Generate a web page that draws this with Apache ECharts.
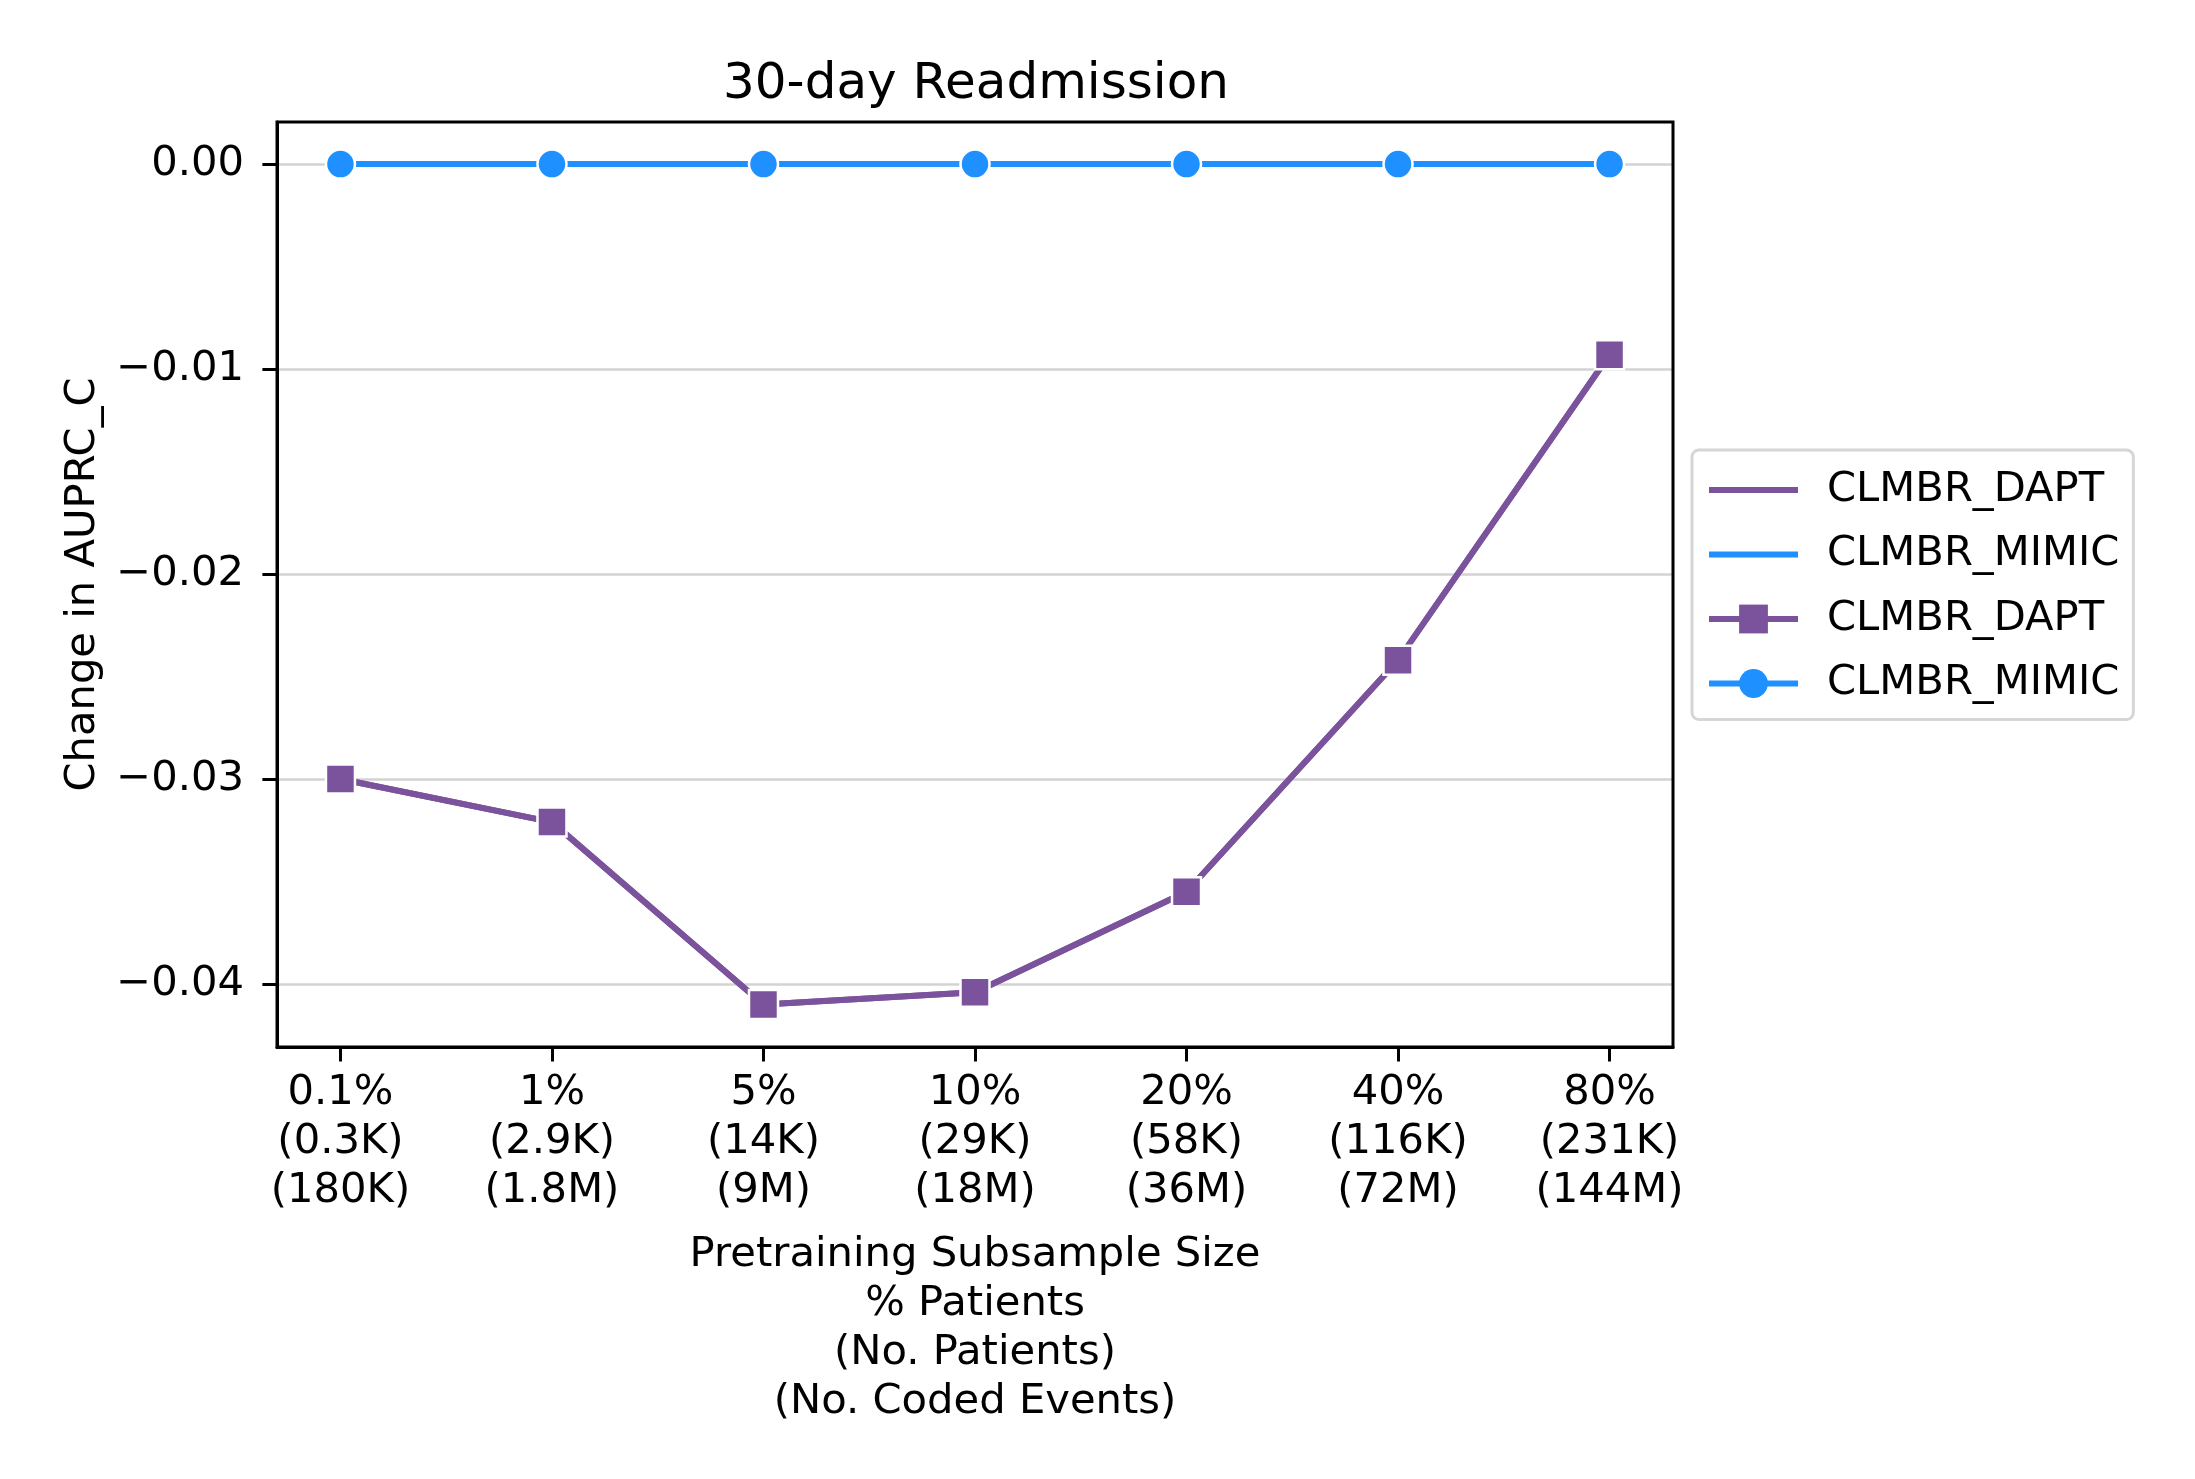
<!DOCTYPE html>
<html>
<head>
<meta charset="utf-8">
<script src="https://cdn.jsdelivr.net/npm/echarts@6/dist/echarts.min.js"></script>
<style>
html, body { margin: 0; padding: 0; background: #fff; }
#chart { width: 2195px; height: 1479px; }
</style>
</head>
<body>
<div id="chart"></div>
<script>
// x categories: % patients / no. patients / no. coded events
var pctPatients = ["0.1%", "1%", "5%", "10%", "20%", "40%", "80%"];
var numPatients = ["0.3K", "2.9K", "14K", "29K", "58K", "116K", "231K"];
var numEvents = ["180K", "1.8M", "9M", "18M", "36M", "72M", "144M"];

// change in AUPRC_C
var daptValues = [-0.0300, -0.0321, -0.0410, -0.0404, -0.0355, -0.0242, -0.0093];
var mimicValues = [0, 0, 0, 0, 0, 0, 0];

var yTicks = [-0.04, -0.03, -0.02, -0.01, 0];

var PURPLE = '#7b529c';
var BLUE = '#1e90ff';
var FONT = 'DejaVu Sans';

function pairs(vals) {
    var out = [];
    for (var i = 0; i < vals.length; i++) {
        out.push([i, vals[i]]);
    }
    return out;
}

var xIdx = [];
for (var i = 0; i < pctPatients.length; i++) xIdx.push(i);

var chart = echarts.init(document.getElementById('chart'), null, {renderer: 'canvas'});

// legend entries without marker: hide the default symbol
var noMarker = { color: 'rgba(0,0,0,0)', borderWidth: 0, opacity: 0 };

var option = {
    backgroundColor: '#fff',
    animation: false,
    textStyle: { fontFamily: FONT },
    title: {
        text: '30-day Readmission',
        left: 971,
        top: 55,
        textAlign: 'center',
        textStyle: { fontFamily: FONT, fontSize: 50, fontWeight: 'normal', color: '#000' }
    },
    grid: { left: 277, right: 522, top: 122, bottom: 432, containLabel: false },
    legend: {
        orient: 'vertical',
        left: 1692,
        top: 450,
        itemWidth: 89,
        itemHeight: 36,
        itemGap: 22.5,
        padding: [19, 14, 15, 14],
        borderColor: '#d6d6d6',
        borderWidth: 3,
        borderRadius: 7,
        backgroundColor: '#fff',
        lineStyle: { width: 6 },
        textStyle: { fontFamily: FONT, fontSize: 41.7, lineHeight: 36, color: '#000', padding: [0, 0, 0, 24] },
        formatter: function (name) { return name.replace(/\u200b/g, ''); },
        data: [
            { name: 'CLMBR_DAPT', itemStyle: noMarker },
            { name: 'CLMBR_MIMIC', itemStyle: noMarker },
            { name: 'CLMBR_DAPT\u200b', itemStyle: { borderWidth: 0 } },
            { name: 'CLMBR_MIMIC\u200b', itemStyle: { borderWidth: 0 } }
        ]
    },
    xAxis: {
        type: 'value',
        min: -0.3,
        max: 6.3,
        name: 'Pretraining Subsample Size\n% Patients\n(No. Patients)\n(No. Coded Events)',
        nameLocation: 'middle',
        nameGap: 184,
        nameTextStyle: { fontFamily: FONT, fontSize: 41.7, color: '#000', lineHeight: 49 },
        axisLine: { onZero: false, lineStyle: { color: '#000', width: 3 } },
        axisTick: { show: true, length: 14.6, lineStyle: { color: '#000', width: 3 }, customValues: xIdx },
        axisLabel: {
            customValues: xIdx,
            margin: 22,
            fontFamily: FONT,
            fontSize: 41.7,
            lineHeight: 49,
            color: '#000',
            formatter: function (v) {
                var k = Math.round(v);
                return pctPatients[k] + '\n(' + numPatients[k] + ')\n(' + numEvents[k] + ')';
            }
        },
        splitLine: { show: false }
    },
    yAxis: {
        type: 'value',
        min: -0.04307,
        max: 0.00205,
        name: 'Change in AUPRC_C',
        nameLocation: 'middle',
        nameGap: 173,
        nameTextStyle: { fontFamily: FONT, fontSize: 41.7, color: '#000' },
        axisLine: { show: true, onZero: false, lineStyle: { color: '#000', width: 3 } },
        axisTick: { show: true, length: 14.6, lineStyle: { color: '#000', width: 3 }, customValues: yTicks },
        axisLabel: {
            customValues: yTicks,
            margin: 33,
            fontFamily: FONT,
            fontSize: 41.7,
            color: '#000',
            formatter: function (v) {
                if (Math.abs(v) < 1e-9) return '0.00';
                return '\u2212' + Math.abs(v).toFixed(2);
            }
        },
        splitLine: { show: true, lineStyle: { color: '#d3d3d3', width: 2.5 } }
    },
    series: [
        {
            name: 'CLMBR_DAPT',
            type: 'line',
            data: pairs(daptValues),
            symbol: 'none',
            lineStyle: { color: PURPLE, width: 6 },
            itemStyle: { color: PURPLE },
            z: 2
        },
        {
            name: 'CLMBR_MIMIC',
            type: 'line',
            data: pairs(mimicValues),
            symbol: 'none',
            lineStyle: { color: BLUE, width: 6 },
            itemStyle: { color: BLUE },
            z: 2
        },
        {
            name: 'CLMBR_DAPT\u200b',
            type: 'line',
            data: pairs(daptValues),
            symbol: 'rect',
            symbolSize: 29,
            lineStyle: { color: PURPLE, width: 6 },
            itemStyle: { color: PURPLE, borderColor: '#fff', borderWidth: 2.5 },
            z: 3
        },
        {
            name: 'CLMBR_MIMIC\u200b',
            type: 'line',
            data: pairs(mimicValues),
            symbol: 'circle',
            symbolSize: 29,
            lineStyle: { color: BLUE, width: 6 },
            itemStyle: { color: BLUE, borderColor: '#fff', borderWidth: 2.5 },
            z: 3
        }
    ]
};

chart.setOption(option);

// frame: top and right spines
chart.setOption({
    graphic: [
        {
            type: 'rect',
            shape: { x: 277, y: 122, width: 1673 - 277, height: 1047 - 122 },
            style: { fill: null, stroke: '#000', lineWidth: 3 },
            silent: true,
            z: 10
        }
    ]
});
</script>
</body>
</html>
